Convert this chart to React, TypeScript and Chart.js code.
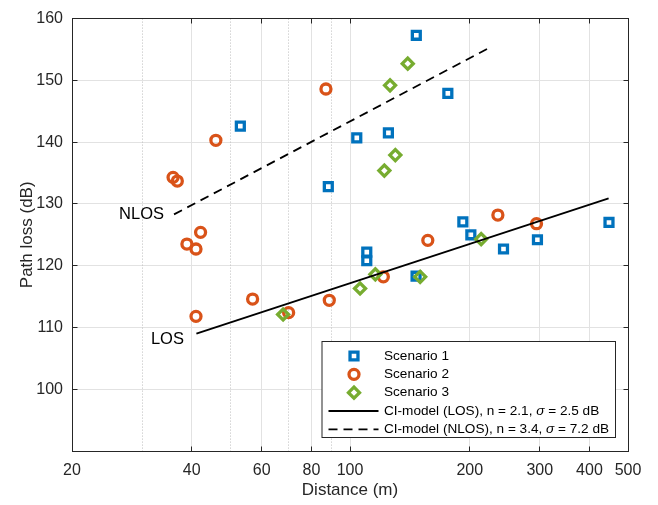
import React, { useEffect, useRef } from 'react';
import { Chart, registerables } from 'chart.js';
import { drawPoint } from 'chart.js/helpers';

Chart.register(...registerables);

const FONT = "'Liberation Sans', Arial, Helvetica, sans-serif";
const AXIS_COLOR = '#262626';

// ---- data ----
const xTickValues = [20, 40, 60, 80, 100, 200, 300, 400, 500];
const xMinorGrid = [30, 50, 70, 90];
const yTickValues = [100, 110, 120, 130, 140, 150, 160];

const distS1 = [146.8, 176.2, 53.0, 104.0, 124.9, 88.2, 110.2, 110.2, 146.6, 192.2, 201.3, 243.2, 296.0, 447.9];
const plS1 = [157.3, 147.9, 142.6, 140.7, 141.5, 132.8, 122.2, 120.8, 118.3, 127.1, 125.0, 122.7, 124.2, 127.0];

const distS2 = [87.0, 46.0, 35.9, 36.8, 38.9, 42.1, 41.0, 41.0, 56.9, 70.1, 88.7, 121.3, 156.9, 235.4, 294.4];
const plS2 = [148.6, 140.3, 134.3, 133.7, 123.5, 125.4, 122.7, 111.8, 114.6, 112.4, 114.4, 118.2, 124.1, 128.2, 126.8];

const distS3 = [139.7, 126.1, 130.0, 122.0, 67.9, 106.0, 115.8, 150.1, 213.7];
const plS3 = [152.7, 149.2, 137.9, 135.4, 112.1, 116.3, 118.6, 118.2, 124.3];

const losDist = [41.1, 446.9];
const losPL = [109.0, 130.9];
const nlosDist = [36.1, 222.9];
const nlosPL = [128.3, 155.2];

const seriesLabels = [
  'Scenario 1',
  'Scenario 2',
  'Scenario 3',
  'CI-model (LOS), n = 2.1, σ = 2.5 dB',
  'CI-model (NLOS), n = 3.4, σ = 7.2 dB',
];
const seriesColors = ['#0072BD', '#D95319', '#77AC30', '#000000', '#000000'];

const toPts = (xs: number[], ys: number[]) => xs.map((x, i) => ({ x, y: ys[i] }));

const overlayPlugin = {
  id: 'overlay',
  beforeDatasetsDraw(chart: any) {
    const { ctx, chartArea } = chart;
    const xs = chart.scales.x;
    ctx.save();
    ctx.strokeStyle = '#bdbdbd';
    ctx.lineWidth = 1;
    ctx.setLineDash([1, 2]);
    xMinorGrid.forEach((v) => {
      const px = Math.round(xs.getPixelForValue(v) - 0.5) + 0.5;
      ctx.beginPath();
      ctx.moveTo(px, chartArea.top);
      ctx.lineTo(px, chartArea.bottom);
      ctx.stroke();
    });
    ctx.restore();
  },
  afterDatasetsDraw(chart: any) {
    const { ctx, chartArea } = chart;
    const xs = chart.scales.x;
    const ys = chart.scales.y;
    const L = Math.round(chartArea.left - 0.5) + 0.5;
    const R = Math.round(chartArea.right - 0.5) + 0.5;
    const T = Math.round(chartArea.top - 0.5) + 0.5;
    const B = Math.round(chartArea.bottom - 0.5) + 0.5;
    ctx.save();
    // box
    ctx.strokeStyle = AXIS_COLOR;
    ctx.lineWidth = 1;
    ctx.setLineDash([]);
    ctx.strokeRect(L, T, R - L, B - T);
    // inward ticks
    const tl = 5;
    ctx.beginPath();
    xTickValues.forEach((v) => {
      const px = Math.round(xs.getPixelForValue(v) - 0.5) + 0.5;
      ctx.moveTo(px, B);
      ctx.lineTo(px, B - tl);
      ctx.moveTo(px, T);
      ctx.lineTo(px, T + tl);
    });
    yTickValues.forEach((v) => {
      const py = Math.round(ys.getPixelForValue(v) - 0.5) + 0.5;
      ctx.moveTo(L, py);
      ctx.lineTo(L + tl, py);
      ctx.moveTo(R, py);
      ctx.lineTo(R - tl, py);
    });
    ctx.stroke();

    // annotations
    ctx.fillStyle = '#000';
    ctx.font = `16.5px ${FONT}`;
    ctx.textAlign = 'right';
    ctx.textBaseline = 'middle';
    ctx.fillText('NLOS', xs.getPixelForValue(nlosDist[0]) - 10, ys.getPixelForValue(nlosPL[0]));
    ctx.fillText('LOS', xs.getPixelForValue(losDist[0]) - 12.5, ys.getPixelForValue(losPL[0]) + 5.6);

    // legend
    const bw = 293.5;
    const bh = 96;
    const bx1 = Math.round(chartArea.right - 13) + 0.5;
    const by1 = Math.round(chartArea.bottom - 14) + 0.5;
    const bx0 = bx1 - bw;
    const by0 = by1 - bh;
    ctx.fillStyle = '#ffffff';
    ctx.fillRect(bx0, by0, bw, bh);
    ctx.strokeStyle = AXIS_COLOR;
    ctx.lineWidth = 1;
    ctx.strokeRect(bx0, by0, bw, bh);

    const rowH = 18.33;
    const firstRow = by0 + 14.5;
    const markerX = bx0 + 32;
    const textX = bx0 + 62;
    chart.data.datasets.forEach((ds: any, i: number) => {
      const y = firstRow + i * rowH;
      ctx.save();
      if (ds.showLine) {
        ctx.strokeStyle = ds.borderColor;
        ctx.lineWidth = ds.borderWidth;
        ctx.setLineDash(ds.borderDash || []);
        ctx.beginPath();
        ctx.moveTo(bx0 + 6.5, y);
        ctx.lineTo(bx0 + 56.5, y);
        ctx.stroke();
      } else {
        ctx.strokeStyle = ds.pointBorderColor;
        ctx.fillStyle = 'rgba(0,0,0,0)';
        ctx.lineWidth = ds.pointBorderWidth;
        ctx.setLineDash([]);
        drawPoint(ctx, { pointStyle: ds.pointStyle, radius: ds.pointRadius, borderWidth: ds.pointBorderWidth, rotation: 0 } as any, markerX, y);
      }
      ctx.restore();
      // text with italic sigma
      ctx.fillStyle = '#000';
      ctx.textAlign = 'left';
      ctx.textBaseline = 'middle';
      const parts = String(ds.label).split('σ');
      let x = textX;
      parts.forEach((p: string, k: number) => {
        ctx.font = `13.6px ${FONT}`;
        ctx.fillText(p, x, y);
        x += ctx.measureText(p).width;
        if (k < parts.length - 1) {
          ctx.font = `italic 13.6px ${FONT}`;
          ctx.fillText('σ', x, y);
          x += ctx.measureText('σ').width;
        }
      });
    });
    ctx.restore();
  },
};

export default function App() {
  const ref = useRef<HTMLCanvasElement | null>(null);

  useEffect(() => {
    if (!ref.current) return;
    const markerDs = (i: number, xs: number[], ys: number[], style: string, radius: number, order: number) => ({
      label: seriesLabels[i],
      data: toPts(xs, ys),
      showLine: false,
      pointStyle: style,
      pointRadius: radius,
      pointHoverRadius: radius,
      pointBorderWidth: 3.3,
      pointBorderColor: seriesColors[i],
      pointBackgroundColor: 'rgba(0,0,0,0)',
      borderColor: seriesColors[i],
      backgroundColor: 'rgba(0,0,0,0)',
      order,
    });
    const lineDs = (i: number, xs: number[], ys: number[], dash: number[], order: number) => ({
      label: seriesLabels[i],
      data: toPts(xs, ys),
      showLine: true,
      borderColor: seriesColors[i],
      borderWidth: 1.8,
      borderDash: dash,
      pointRadius: 0,
      pointHoverRadius: 0,
      fill: false,
      order,
    });

    const chart = new Chart(ref.current, {
      type: 'scatter',
      data: {
        datasets: [
          markerDs(0, distS1, plS1, 'rect', 5.6, 5),
          markerDs(1, distS2, plS2, 'circle', 5, 4),
          markerDs(2, distS3, plS3, 'rectRot', 5.5, 3),
          lineDs(3, losDist, losPL, [], 2),
          lineDs(4, nlosDist, nlosPL, [9, 6], 1),
        ] as any,
      },
      options: {
        animation: false,
        responsive: false,
        maintainAspectRatio: false,
        events: [],
        layout: { padding: { top: 12, right: 30, left: 0, bottom: 0 } },
        plugins: {
          legend: { display: false },
          tooltip: { enabled: false },
        },
        scales: {
          x: {
            type: 'logarithmic',
            min: 20,
            max: 500,
            afterBuildTicks: (s: any) => {
              s.ticks = xTickValues.map((v) => ({ value: v }));
            },
            afterFit: (s: any) => {
              s.height = 54;
            },
            ticks: {
              callback: (v: any) => String(v),
              autoSkip: false,
              maxRotation: 0,
              padding: 10,
              color: AXIS_COLOR,
              font: { family: FONT, size: 16 },
            },
            grid: { color: '#e2e2e2', lineWidth: 1, drawTicks: false },
            border: { display: false },
            title: {
              display: true,
              text: 'Distance (m)',
              color: AXIS_COLOR,
              font: { family: FONT, size: 17 },
              padding: { top: 0, bottom: 4 },
            },
          },
          y: {
            type: 'linear',
            min: 90,
            max: 160,
            afterBuildTicks: (s: any) => {
              s.ticks = yTickValues.map((v) => ({ value: v }));
            },
            afterFit: (s: any) => {
              s.width = 72;
            },
            ticks: {
              autoSkip: false,
              padding: 9,
              color: AXIS_COLOR,
              font: { family: FONT, size: 16 },
            },
            grid: { color: '#e2e2e2', lineWidth: 1, drawTicks: false },
            border: { display: false },
            title: {
              display: true,
              text: 'Path loss (dB)',
              color: AXIS_COLOR,
              font: { family: FONT, size: 17 },
              padding: { top: 17, bottom: 0 },
            },
          },
        },
      } as any,
      plugins: [overlayPlugin],
    });
    return () => chart.destroy();
  }, []);

  return (
    <div style={{ position: 'fixed', left: 0, top: 0, width: 658, height: 505, background: '#fff' }}>
      <canvas ref={ref} width={658} height={505} style={{ display: 'block' }} />
    </div>
  );
}
